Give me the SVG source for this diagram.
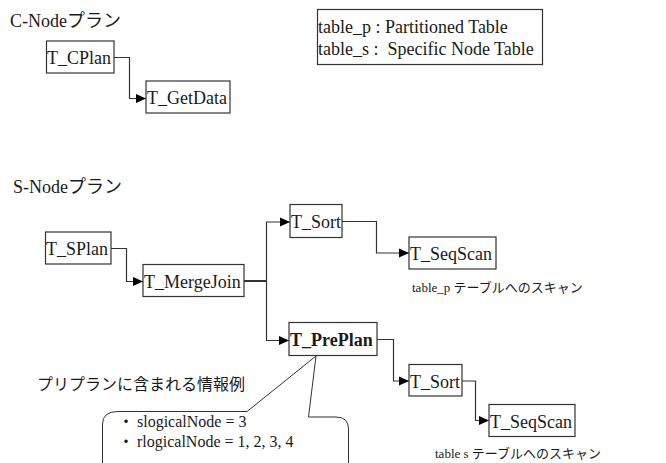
<svg xmlns="http://www.w3.org/2000/svg" width="666" height="463" viewBox="0 0 666 463">
  <style>
    .box { fill: #fff; stroke: #333; stroke-width: 1.2; }
    .lbl { font-family: "Liberation Serif", "Noto Sans CJK JP", serif; font-size: 18px; fill: #1a1a1a; }
    .bold { font-weight: bold; }
    .title { font-family: "Liberation Serif", "Noto Sans CJK JP", serif; font-size: 18px; fill: #1a1a1a; }
    .note { font-family: "Liberation Serif", "Noto Sans CJK JP", serif; font-size: 13px; fill: #1a1a1a; }
    .jp { font-family: "Noto Sans CJK JP", sans-serif; font-size: 16px; fill: #1a1a1a; }
    .info { font-family: "Liberation Serif", "Noto Sans CJK JP", serif; font-size: 16px; fill: #1a1a1a; }
    .wire { fill: none; stroke: #333; stroke-width: 1.2; }
    .arrow { marker-end: url(#head); }
    .callout { fill: none; stroke: #333; stroke-width: 1; }
  </style>
  <defs>
    <marker id="head" markerUnits="userSpaceOnUse" markerWidth="11" markerHeight="10" refX="10" refY="5" orient="auto">
      <path d="M0,0.5 L10,5 L0,9.5 z" fill="#000"/>
    </marker>
  </defs>

  <rect width="666" height="463" fill="#fff"/>

  <!-- section titles -->
  <text class="title" x="10" y="27">C-Nodeプラン</text>
  <text class="title" x="13" y="193">S-Nodeプラン</text>

  <!-- legend -->
  <g id="legend">
    <rect class="box" x="317.5" y="9.5" width="225" height="55"/>
    <text class="lbl" x="318" y="33">table_p : Partitioned Table</text>
    <text class="lbl" x="318" y="55" xml:space="preserve">table_s :  Specific Node Table</text>
  </g>

  <!-- connectors -->
  <g id="connectors">
    <path class="wire arrow" d="M114,57.5 H129.5 V98.5 H146"/>
    <path class="wire arrow" d="M111,248.5 H126.5 V281.5 H143"/>
    <path class="wire" d="M244,281 H267" style="stroke-width:2"/>
    <path class="wire arrow" d="M266.5,281 V222 H290"/>
    <path class="wire arrow" d="M266.5,281 V340.5 H289"/>
    <path class="wire arrow" d="M342,221.5 H376.5 V253 H409"/>
    <path class="wire arrow" d="M377,339.5 H393.5 V381 H409"/>
    <path class="wire arrow" d="M462,381 H475.5 V420.5 H489"/>
  </g>

  <!-- C-Node plan -->
  <g id="t-cplan">
    <rect class="box" x="46.5" y="41" width="67.5" height="32"/>
    <text class="lbl" x="47" y="64">T_CPlan</text>
  </g>
  <g id="t-getdata">
    <rect class="box" x="146" y="81" width="84" height="32"/>
    <text class="lbl" x="147" y="104">T_GetData</text>
  </g>

  <!-- S-Node plan -->
  <g id="t-splan">
    <rect class="box" x="45.5" y="232" width="65.5" height="32"/>
    <text class="lbl" x="46" y="255">T_SPlan</text>
  </g>
  <g id="t-mergejoin">
    <rect class="box" x="143" y="264.5" width="101" height="32"/>
    <text class="lbl" x="144" y="288">T_MergeJoin</text>
  </g>
  <g id="t-sort-1">
    <rect class="box" x="290" y="204.5" width="52" height="33"/>
    <text class="lbl" x="291" y="228">T_Sort</text>
  </g>
  <g id="t-seqscan-1">
    <rect class="box" x="409" y="237" width="87" height="32"/>
    <text class="lbl" x="410" y="260">T_SeqScan</text>
    <text class="note" x="412" y="292">table_p テーブルへのスキャン</text>
  </g>
  <g id="t-preplan">
    <rect class="box" x="289" y="322.5" width="88" height="33"/>
    <text class="lbl bold" x="290" y="346">T_PrePlan</text>
  </g>
  <g id="t-sort-2">
    <rect class="box" x="409" y="364.5" width="53" height="31.5"/>
    <text class="lbl" x="410" y="388">T_Sort</text>
  </g>
  <g id="t-seqscan-2">
    <rect class="box" x="489" y="404.5" width="86" height="32"/>
    <text class="lbl" x="490" y="428">T_SeqScan</text>
    <text class="note" x="435" y="458">table s テーブルへのスキャン</text>
  </g>

  <!-- callout describing PrePlan contents -->
  <g id="preplan-info">
    <text class="jp" x="37" y="390">プリプランに含まれる情報例</text>
    <path class="callout" d="M102.5,463 V424 Q102.5,411.5 118,411.5 H247 L316,356 L308.5,417 H336 Q348.5,417 348.5,429 V463"/>
    <text class="info"><tspan x="118" y="427">・</tspan><tspan x="137" y="427">slogicalNode = 3</tspan></text>
    <text class="info"><tspan x="118" y="447">・</tspan><tspan x="137" y="447">rlogicalNode = 1, 2, 3, 4</tspan></text>
  </g>
</svg>
